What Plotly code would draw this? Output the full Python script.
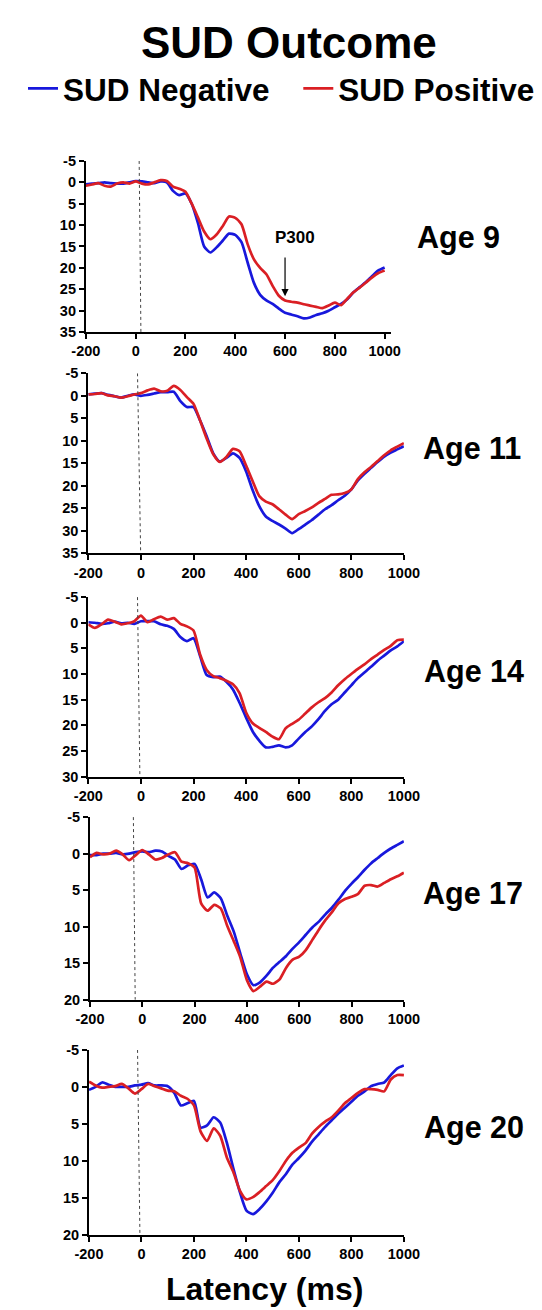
import plotly.graph_objects as go

# ---------------- data ----------------
latency = list(range(-200, 1001, 25))

age9_neg = [0.5, 0.3, 0.2, 0.0, 0.2, 0.3, 0.3, 0.0, -0.3, -0.2, 0.0, 0.2, -0.2, 0.0, 2.0, 3.0, 2.6,
            5.0, 9.5, 15.0, 16.4, 15.2, 13.6, 12.0, 12.3, 14.0, 18.8, 23.5, 26.3, 27.6, 28.4, 29.5,
            30.5, 30.9, 31.3, 31.8, 31.6, 31.0, 30.6, 30.0, 29.2, 28.4, 27.3, 25.7, 24.5, 23.3, 21.9,
            20.6, 19.9]
age9_pos = [0.8, 0.5, 0.2, 0.8, 1.0, 0.3, 0.0, 0.3, -0.2, 0.3, 0.5, 0.0, -0.5, -0.3, 1.0, 1.5, 2.2,
            5.0, 8.2, 11.5, 13.3, 12.2, 10.2, 8.0, 8.3, 9.8, 14.5, 18.0, 20.0, 21.5, 24.2, 26.5,
            27.6, 27.9, 28.1, 28.5, 28.8, 29.1, 29.4, 28.8, 28.1, 28.7, 27.2, 25.7, 24.6, 23.4, 22.2,
            21.2, 20.6]

age11_neg = [-0.3, -0.5, -0.6, -0.2, 0.1, 0.4, 0.0, -0.3, 0.0, -0.2, -0.5, -0.8, -0.8, -0.9, 1.2,
             2.5, 2.5, 5.5, 9.0, 12.8, 14.6, 13.8, 12.8, 13.8, 16.8, 21.0, 24.5, 26.8, 27.8, 28.6,
             29.5, 30.5, 29.6, 28.6, 27.6, 26.4, 25.2, 24.3, 23.2, 22.2, 20.8, 18.8, 17.3, 16.0,
             14.7, 13.5, 12.6, 11.9, 11.2]
age11_pos = [-0.3, -0.4, -0.6, -0.1, 0.1, 0.4, 0.1, -0.3, -0.6, -1.2, -1.6, -1.0, -1.1, -2.2, -1.3,
             0.3, 1.8, 5.5, 9.5, 13.0, 14.7, 13.6, 11.8, 12.3, 15.5, 19.0, 22.3, 23.5, 24.1, 25.2,
             26.4, 27.4, 26.3, 25.6, 24.8, 23.8, 22.9, 22.0, 21.9, 21.6, 20.8, 18.5, 17.0, 15.8,
             14.5, 13.2, 12.1, 11.3, 10.5]

age14_neg = [-0.1, 0.0, 0.2, 0.1, -0.2, 0.1, 0.0, 0.2, -0.3, -0.3, -0.3, 0.3, 0.6, 1.2, 2.8, 3.6,
             3.0, 6.5, 10.2, 10.6, 10.5, 11.5, 13.0, 15.6, 18.5, 21.2, 23.0, 24.3, 24.2, 23.9, 24.3,
             23.9, 22.6, 21.3, 20.2, 18.8, 17.2, 15.9, 15.0, 13.6, 12.2, 10.8, 9.7, 8.6, 7.4, 6.4,
             5.4, 4.6, 3.6]
age14_pos = [0.3, 1.0, 0.3, -0.6, -0.2, 0.3, 0.1, -0.3, -1.4, -0.1, -0.7, -1.2, -0.6, -0.9, 0.2,
             0.7, 1.5, 6.2, 9.2, 10.4, 10.8, 11.3, 12.0, 13.7, 17.5, 19.6, 20.5, 21.3, 22.2, 22.7,
             20.6, 19.7, 18.9, 17.7, 16.5, 15.5, 14.7, 13.6, 12.2, 11.0, 10.0, 9.0, 8.1, 7.1, 6.2,
             5.3, 4.5, 3.4, 3.3]

age17_neg = [0.2, 0.2, 0.0, 0.0, -0.1, 0.1, 0.0, -0.2, -0.3, -0.2, -0.4, -0.3, 0.3, 0.8, 2.1, 1.6,
             1.4, 3.5, 6.0, 5.3, 6.1, 8.5, 10.7, 13.7, 16.5, 18.0, 17.6, 16.7, 15.6, 14.8, 14.0,
             13.0, 12.1, 11.1, 10.1, 9.3, 8.3, 7.4, 6.3, 5.1, 4.1, 3.2, 2.2, 1.3, 0.6, -0.1, -0.7,
             -1.2, -1.7]
age17_pos = [0.5, -0.1, 0.1, 0.0, -0.4, 0.1, 0.9, 0.2, -0.5, 0.1, 0.8, 0.6, 0.1, -0.2, 1.1, 1.3,
             1.9, 6.8, 7.8, 7.0, 7.5, 9.9, 12.0, 14.2, 17.3, 18.8, 18.2, 17.5, 17.8, 17.2, 15.6,
             14.5, 14.1, 13.2, 11.8, 10.4, 9.1, 8.0, 6.8, 6.2, 5.9, 5.5, 4.4, 4.3, 4.5, 4.0, 3.5,
             3.1, 2.6]

age20_neg = [0.4, 0.0, -0.6, -0.3, 0.0, 0.0, 0.0, -0.2, -0.3, -0.5, -0.2, -0.2, -0.1, 0.8, 2.5,
             2.2, 1.9, 5.5, 5.2, 4.1, 4.8, 7.5, 11.0, 14.2, 16.7, 17.2, 16.5, 15.5, 14.3, 12.9,
             11.8, 10.5, 9.6, 8.6, 7.4, 6.4, 5.4, 4.5, 3.6, 2.8, 2.0, 1.2, 0.6, -0.1, -0.4, -0.6,
             -1.6, -2.5, -2.9]
age20_pos = [-0.7, -0.2, 0.1, 0.0, -0.1, -0.4, 0.2, 0.9, 0.3, -0.4, -0.1, 0.2, 0.5, 0.6, 1.2, 1.6,
             2.5, 6.0, 7.3, 5.6, 6.6, 9.5, 11.5, 14.0, 15.2, 14.9, 14.2, 13.4, 12.6, 11.4, 10.0,
             8.9, 8.2, 7.6, 6.3, 5.4, 4.7, 4.1, 3.2, 2.2, 1.5, 0.8, 0.3, 0.3, 0.4, 0.6, -1.0, -1.6,
             -1.6]

panel_labels = ["Age 9", "Age 11", "Age 14", "Age 17", "Age 20"]
negative_series = [age9_neg, age11_neg, age14_neg, age17_neg, age20_neg]
positive_series = [age9_pos, age11_pos, age14_pos, age17_pos, age20_pos]
series_names = ["SUD Negative", "SUD Positive"]

x_tickvals = [-200, 0, 200, 400, 600, 800, 1000]
x_ticktext = ["-200", "0", "200", "400", "600", "800", "1000"]
y_max = [35, 35, 30, 20, 20]
y_tickvals_all = [-5, 0, 5, 10, 15, 20, 25, 30, 35]

# stimulus-onset marker (ms) as drawn, top and bottom end
onset_top = [14, -13, -13, -34, -15]
onset_bottom = [21, -1, -4, -27, -6]

# P300 marker
p300_latency = 600

# ---------------- layout (pixels) ----------------
W, H = 542, 1310
# left, right, top, bottom pixel edges of each plotting area
boxes = [
    (66.7, 390.7, 146.7, 320.0),
    (69.3, 404.0, 361.7, 544.0),
    (69.3, 404.0, 588.3, 770.0),
    (71.0, 404.0, 811.0, 996.0),
    (70.0, 404.0, 1046.7, 1234.0),
]
x_max = [1027, 1000, 1000, 1000, 1000]
label_pos = [(462, 224), (476, 438), (478, 664), (477, 888), (478, 1125)]

BLUE = "#1818dc"
RED = "#da1f24"
FONT = "Liberation Sans, Arial, sans-serif"


def px_x(p):
    return p / W


def px_y(p):
    return 1 - p / H


fig = go.Figure()
annotations = []
shapes = []

for i in range(5):
    n = i + 1
    xa = "x" if n == 1 else f"x{n}"
    ya = "y" if n == 1 else f"y{n}"
    fig.add_trace(go.Scatter(
        x=latency, y=negative_series[i], mode="lines", name=series_names[0],
        line=dict(color=BLUE, width=2.7, shape="spline", smoothing=0.6),
        xaxis=xa, yaxis=ya, showlegend=(i == 0), legend="legend"))
    fig.add_trace(go.Scatter(
        x=latency, y=positive_series[i], mode="lines", name=series_names[1],
        line=dict(color=RED, width=2.7, shape="spline", smoothing=0.6),
        xaxis=xa, yaxis=ya, showlegend=(i == 0), legend="legend2"))

    l, r, t, b = boxes[i]
    yt = [v for v in y_tickvals_all if v <= y_max[i]]
    axis_common = dict(
        showline=True, linecolor="black", linewidth=2, showgrid=False, zeroline=False,
        ticks="outside", ticklen=5, tickwidth=1.5, tickcolor="black",
        tickfont=dict(family=FONT, size=14.5, color="black", weight="bold"),
    )
    fig.update_layout(**{
        ("xaxis" if n == 1 else f"xaxis{n}"): dict(
            domain=[px_x(l), px_x(r)], range=[-200, x_max[i]], anchor=ya,
            tickvals=x_tickvals, ticktext=x_ticktext, **axis_common),
        ("yaxis" if n == 1 else f"yaxis{n}"): dict(
            domain=[px_y(b), px_y(t)], range=[y_max[i], -5], anchor=xa,
            tickvals=yt, ticktext=[str(v) for v in yt], **axis_common),
    })

    shapes.append(dict(type="line", xref=xa, yref=ya,
                       x0=onset_top[i], x1=onset_bottom[i], y0=-5, y1=y_max[i],
                       line=dict(color="#444444", width=1, dash="dot")))

    lx, ly = label_pos[i]
    annotations.append(dict(text=panel_labels[i], xref="paper", yref="paper",
                            x=px_x(lx), y=px_y(ly), xanchor="center", yanchor="middle",
                            showarrow=False,
                            font=dict(family=FONT, size=30.5, color="black", weight="bold")))

# P300 label and arrow (panel 1)
annotations.append(dict(text="P300", xref="x", yref="y", x=640, y=12.8,
                        showarrow=False, xanchor="center", yanchor="middle",
                        font=dict(family=FONT, size=17, color="black", weight="bold")))
annotations.append(dict(text="", xref="x", yref="y", x=p300_latency, y=26.6,
                        axref="x", ayref="y", ax=p300_latency, ay=17.2,
                        showarrow=True, arrowhead=2, arrowsize=1.2, arrowwidth=1.2,
                        arrowcolor="black"))

# x axis title
annotations.append(dict(text="Latency (ms)", xref="paper", yref="paper",
                        x=px_x(256), y=px_y(1309), xanchor="center", yanchor="bottom",
                        showarrow=False,
                        font=dict(family=FONT, size=32, color="black", weight="bold")))

legend_common = dict(orientation="h", xanchor="left", y=px_y(46), yanchor="top",
                     font=dict(family=FONT, size=31.5, color="black", weight="bold"),
                     itemwidth=30, bgcolor="rgba(0,0,0,0)", borderwidth=0)

fig.update_layout(
    width=W, height=H,
    margin=dict(l=0, r=0, t=0, b=0),
    paper_bgcolor="white", plot_bgcolor="white",
    title=dict(text="SUD Outcome", x=px_x(282), y=px_y(27), xanchor="center", yanchor="middle",
               xref="paper", yref="paper",
               font=dict(family=FONT, size=44, color="black", weight="bold")),
    showlegend=True,
    legend=dict(x=px_x(0), **legend_common),
    legend2=dict(x=px_x(292), **legend_common),
    annotations=annotations,
    shapes=shapes,
)

fig.write_html("out.html")
